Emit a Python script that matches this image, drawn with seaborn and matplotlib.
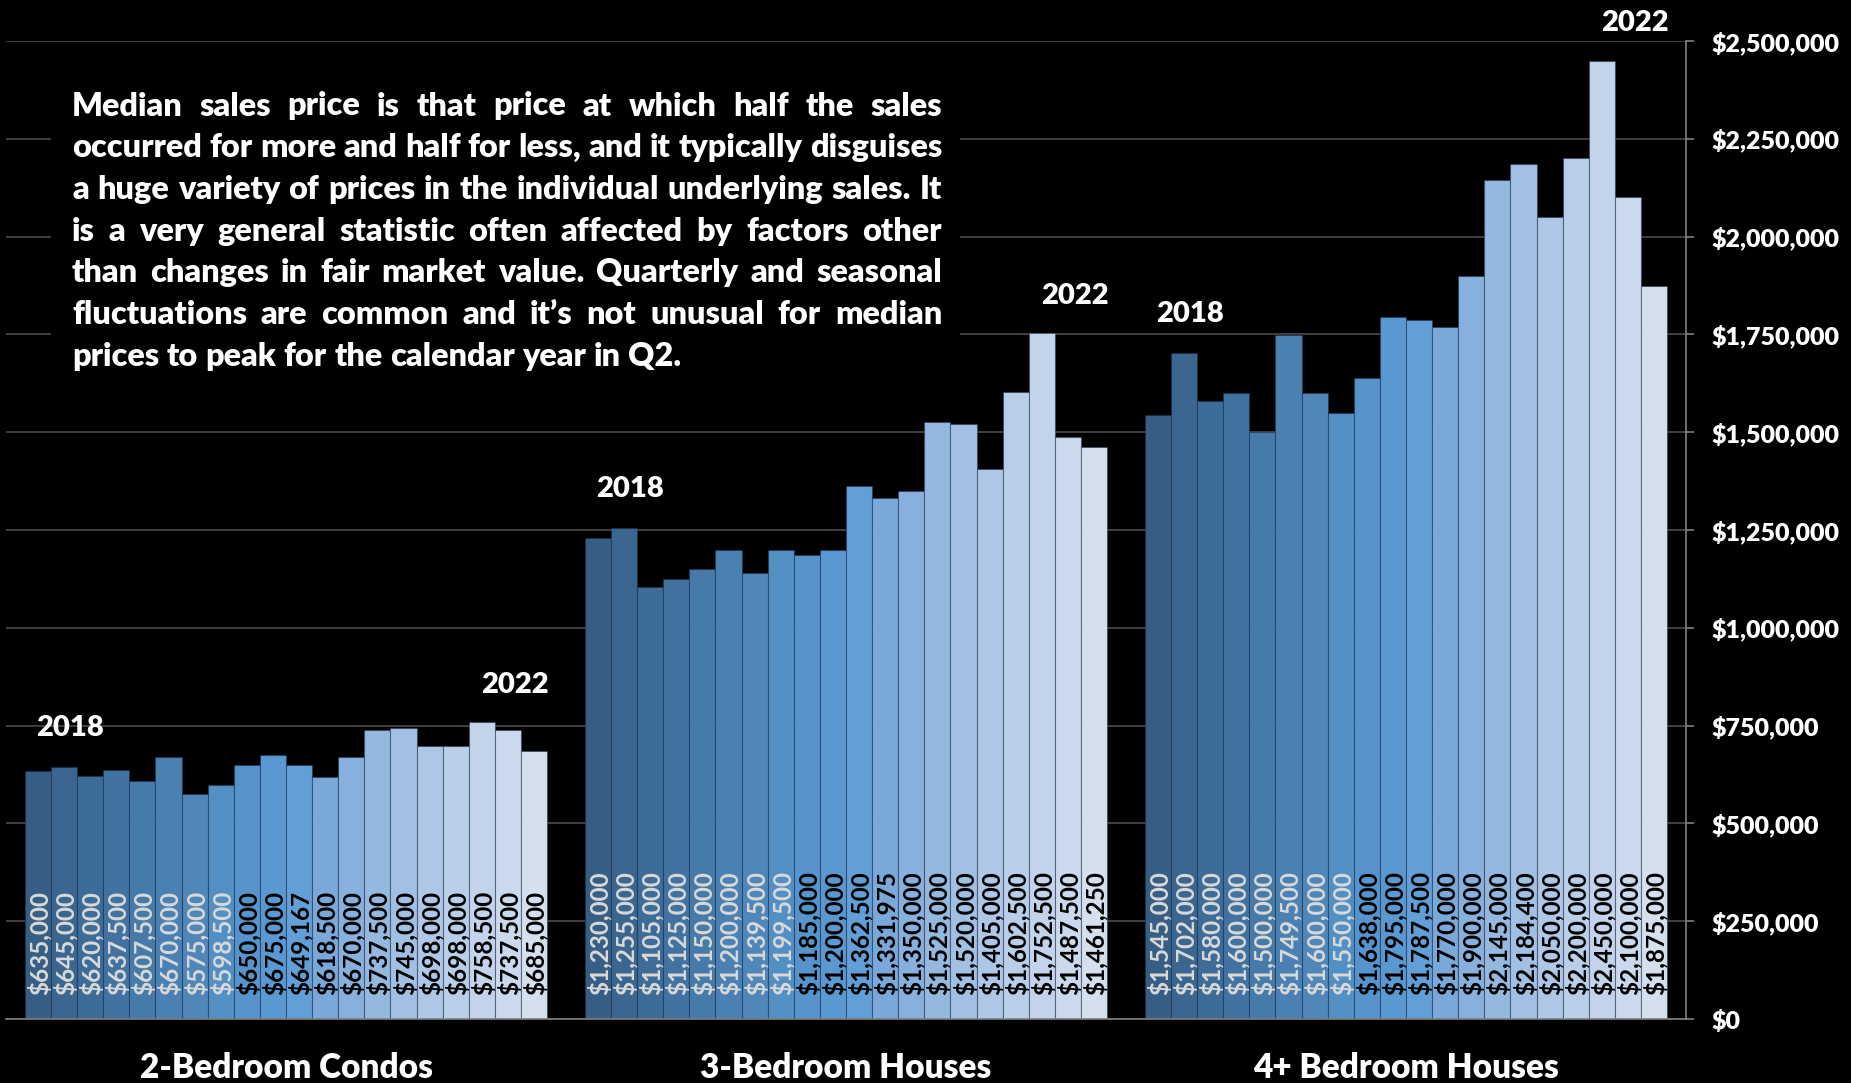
import matplotlib
matplotlib.use("Agg")
import matplotlib.pyplot as plt
import matplotlib.patches as mpatches
import matplotlib.ticker as mticker
import seaborn as sns
import pandas as pd

# ---- data ----
property_types = ["2-Bedroom Condos", "3-Bedroom Houses", "4+ Bedroom Houses"]
quarters = [f"{y} Q{q}" for y in range(2018, 2023) for q in range(1, 5)]

condo_2br = [635000, 645000, 620000, 637500, 607500, 670000, 575000, 598500,
             650000, 675000, 649167, 618500, 670000, 737500, 745000, 698000,
             698000, 758500, 737500, 685000]
house_3br = [1230000, 1255000, 1105000, 1125000, 1150000, 1200000, 1139500, 1199500,
             1185000, 1200000, 1362500, 1331975, 1350000, 1525000, 1520000, 1405000,
             1602500, 1752500, 1487500, 1461250]
house_4br = [1545000, 1702000, 1580000, 1600000, 1500000, 1749500, 1600000, 1550000,
             1638000, 1795000, 1787500, 1770000, 1900000, 2145000, 2184400, 2050000,
             2200000, 2450000, 2100000, 1875000]

bar_colors = ["#375f84", "#3a6690", "#3e6c98", "#4272a0", "#467ba9",
              "#4b80b2", "#4f87b9", "#5290c4", "#5694cb", "#5998d1",
              "#629fd6", "#7aa8d8", "#87b0dc", "#95b8de", "#a2c0e3",
              "#aec7e6", "#b9cfe8", "#c3d3ea", "#cad9ec", "#d5e0ef"]

note_lines = [
    "Median sales price is that price at which half the sales",
    "occurred for more and half for less, and it typically disguises",
    "a huge variety of prices in the individual underlying sales. It",
    "is a very general statistic often affected by factors other",
    "than changes in fair market value. Quarterly and seasonal",
    "fluctuations are common and it\u2019s not unusual for median",
    "prices to peak for the calendar year in Q2.",
]

series = [condo_2br, house_3br, house_4br]
df = pd.DataFrame({
    "type": [t for t in property_types for _ in quarters],
    "quarter": quarters * len(property_types),
    "price": [v for s in series for v in s],
})

# ---- style ----
sns.set_theme(style="dark")
FONT = ["Lato", "DejaVu Sans"]
plt.rcParams["font.family"] = FONT
plt.rcParams["axes.facecolor"] = "black"
plt.rcParams["figure.facecolor"] = "black"
HEAVY = "heavy"

W, H = 1851, 1083
fig = plt.figure(figsize=(W / 100, H / 100), dpi=100)
ax = fig.add_axes([6 / W, 1 - 1019 / H, (1686 - 6) / W, (1019 - 41) / H])

sns.barplot(data=df, x="type", y="price", hue="quarter", palette=bar_colors,
            width=0.933, saturation=1, errorbar=None, legend=False,
            edgecolor=(0.1, 0.18, 0.3, 0.45), linewidth=0.8, ax=ax)

ax.set_xlim(-0.5, 2.5)
ax.set_ylim(0, 2500000)
ax.set_xlabel("")
ax.set_ylabel("")

# right-hand dollar axis
ax.yaxis.tick_right()
ax.yaxis.set_major_locator(mticker.MultipleLocator(250000))
ax.yaxis.set_major_formatter(mticker.StrMethodFormatter("${x:,.0f}"))
ax.tick_params(axis="y", colors="#808080", length=6, width=1.2, pad=12,
               labelcolor="white", labelsize=18)

# bottom: category labels + separator ticks
ax.tick_params(axis="x", which="major", length=0, pad=24, labelcolor="white", labelsize=24)
ax.set_xticks([-0.5, 0.5, 1.5, 2.5], minor=True)
ax.tick_params(axis="x", which="minor", length=8, width=1.2, color="#808080", direction="out")

ax.grid(axis="y", color="#444444", linewidth=1.3)
ax.grid(axis="x", visible=False)
ax.set_axisbelow(True)
for side in ["left", "top"]:
    ax.spines[side].set_visible(False)
for side in ["right", "bottom"]:
    ax.spines[side].set_visible(True)
    ax.spines[side].set_color("#808080")
    ax.spines[side].set_linewidth(1.2)

# value labels written upward at the foot of each bar
for qi, cont in enumerate(ax.containers):
    for ti, bar in enumerate(cont):
        val = series[ti][qi]
        ax.annotate(f"${val:,.0f}", (bar.get_x() + bar.get_width() / 2, 0),
                    xytext=(1, 17), textcoords="offset points", rotation=90,
                    ha="center", va="bottom", fontsize=17.5, fontweight="bold",
                    color="#d9d9d9" if qi < 8 else "black")

# year markers above the first and last years
first_c, q2_c = ax.containers[1], ax.containers[18]
for ti in range(len(property_types)):
    b = first_c[ti]
    ax.annotate("2018", (b.get_x() + b.get_width() / 2, max(series[ti][:3])),
                xytext=(4, 28), textcoords="offset points", ha="center", va="center",
                fontsize=21, fontweight=HEAVY, color="white", annotation_clip=False)
    b = q2_c[ti]
    ax.annotate("2022", (b.get_x() + b.get_width() / 2, max(series[ti][16:])),
                xytext=(5, 27), textcoords="offset points", ha="center", va="center",
                fontsize=21, fontweight=HEAVY, color="white", annotation_clip=False)

# ---- justified note box ----
fig.patches.append(mpatches.Rectangle((51 / W, 1 - 380 / H), (960 - 51) / W, 320 / H,
                                      transform=fig.transFigure, facecolor="black",
                                      edgecolor="none", zorder=1))
renderer = fig.canvas.get_renderer()


def text_width(s, fs):
    t = fig.text(0, 0, s, fontsize=fs, fontweight=HEAVY, family=FONT)
    w = t.get_window_extent(renderer).width
    t.remove()
    return w


box_left, box_right = 72, 942
fs = 24 * (box_right - box_left) / text_width(note_lines[1], 24)
space = text_width("a a", fs) - text_width("aa", fs)
for i, line in enumerate(note_lines):
    words = line.split(" ")
    widths = [text_width(wd, fs) for wd in words]
    if i < len(note_lines) - 1:
        gap = (box_right - box_left - sum(widths)) / (len(words) - 1)
    else:
        gap = space
    x = box_left
    y = 115.5 + i * 41.7
    for wd, w in zip(words, widths):
        fig.text(x / W, 1 - y / H, wd, fontsize=fs, fontweight=HEAVY, family=FONT,
                 color="white", ha="left", va="baseline", zorder=2)
        x += w + gap

# heavy tick labels (set once ticks exist)
fig.canvas.draw()
for tick in ax.yaxis.get_major_ticks():
    tick.label1.set_fontweight(HEAVY)
    tick.label2.set_fontweight(HEAVY)
for tick in ax.xaxis.get_major_ticks():
    tick.label1.set_fontweight(HEAVY)

fig.savefig("out.png", dpi=100, facecolor="black")
